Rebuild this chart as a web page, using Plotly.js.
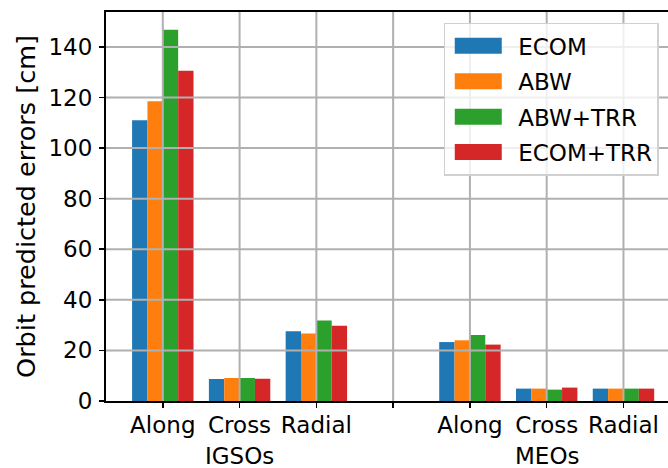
<!DOCTYPE html>
<html>
<head>
<meta charset="utf-8">
<script src="https://cdn.plot.ly/plotly-3.0.1.min.js"></script>
<style>html,body{margin:0;padding:0;background:#fff;}#chart{width:668px;height:468px;}</style>
</head>
<body>
<div id="chart"></div>
<script>
const groups = ['IGSOs', 'MEOs'];
const components = ['Along', 'Cross', 'Radial'];
const seriesNames = ['ECOM', 'ABW', 'ABW+TRR', 'ECOM+TRR'];
const seriesColors = ['#1f77b4', '#ff7f0e', '#2ca02c', '#d62728'];
// values per series: IGSOs Along, Cross, Radial, MEOs Along, Cross, Radial
const ecom    = [111.0, 8.7, 27.6, 23.3, 4.9, 4.9];
const abw     = [118.5, 9.1, 26.7, 24.0, 4.9, 4.9];
const abwTrr  = [146.8, 9.1, 31.8, 26.1, 4.5, 4.9];
const ecomTrr = [130.6, 8.8, 29.8, 22.3, 5.3, 4.9];
const yTicks = [0, 20, 40, 60, 80, 100, 120, 140];

const seriesValues = [ecom, abw, abwTrr, ecomTrr];
const slot = components.length + 1; // one empty slot between groups
const xPos = [];
const tickVals = [];
const tickText = [];
groups.forEach((g, gi) => {
  components.forEach((c, ci) => { xPos.push(gi * slot + ci); });
});
for (let i = 0; i < groups.length * slot - 1; i++) {
  tickVals.push(i);
  const ci = i % slot;
  tickText.push(ci < components.length ? components[ci] : '');
}

const traces = seriesNames.map((name, si) => ({
  type: 'bar',
  name: name,
  legendgroup: 'g' + si,
  x: xPos,
  y: seriesValues[si],
  marker: {color: seriesColors[si], line: {width: 0}},
  hoverinfo: 'x+y+name'
}));

const gridColor = '#b0b0b0';
const shapes = [];
yTicks.filter(v => v > 0).forEach(v => shapes.push({
  type: 'line', xref: 'paper', x0: 0, x1: 1, yref: 'y', y0: v, y1: v,
  line: {color: gridColor, width: 2}, layer: 'above'
}));
tickVals.forEach(v => shapes.push({
  type: 'line', xref: 'x', x0: v, x1: v, yref: 'paper', y0: 0, y1: 1,
  line: {color: gridColor, width: 2}, layer: 'above'
}));

const annotations = groups.map((g, gi) => ({
  text: g, xref: 'x', x: gi * slot + (components.length - 1) / 2,
  yref: 'paper', y: 0, yshift: -55, yanchor: 'middle', showarrow: false,
  font: {family: 'DejaVu Sans', size: 23, color: '#000'}
}));

const layout = {
  width: 668, height: 468,
  margin: {l: 106, r: 0, t: 12, b: 67},
  paper_bgcolor: '#fff', plot_bgcolor: '#fff',
  font: {family: 'DejaVu Sans', size: 23, color: '#000'},
  barmode: 'group', bargap: 0.2, bargroupgap: 0,
  showlegend: true,
  legend: {
    x: 0.601, y: 0.972, xanchor: 'left', yanchor: 'top',
    traceorder: 'grouped', tracegroupgap: 2.5,
    bgcolor: 'rgba(255,255,255,0.8)', bordercolor: '#d0d0d0', borderwidth: 1.5,
    font: {family: 'DejaVu Sans', size: 23, color: '#000'},
    itemwidth: 63
  },
  xaxis: {
    range: [-0.74, 6.58], tickmode: 'array', tickvals: tickVals, ticktext: tickText,
    showgrid: false, zeroline: false, showline: true, linecolor: '#000', linewidth: 2,
    mirror: true, ticks: 'outside', ticklen: 5, tickwidth: 1.5, tickcolor: '#000',
    ticklabelstandoff: -3,
    tickfont: {family: 'DejaVu Sans', size: 23, color: '#000'}
  },
  yaxis: {
    range: [0, 153.8], tickmode: 'array', tickvals: yTicks,
    showgrid: false, zeroline: false, showline: true, linecolor: '#000', linewidth: 2,
    ticks: 'outside', ticklen: 5, tickwidth: 1.5, tickcolor: '#000',
    ticklabelstandoff: 2,
    tickfont: {family: 'DejaVu Sans', size: 23, color: '#000'},
    title: {text: 'Orbit predicted errors [cm]', font: {family: 'DejaVu Sans', size: 25.5, color: '#000'}, standoff: 6}
  },
  shapes: shapes,
  annotations: annotations
};

Plotly.newPlot('chart', traces, layout, {displayModeBar: false, staticPlot: true}).then(() => {
  document.querySelectorAll('.legend .legendpoints path').forEach(p => {
    p.setAttribute('d', 'M-27,8H20V-8H-27Z');
  });
});
</script>
</body>
</html>
